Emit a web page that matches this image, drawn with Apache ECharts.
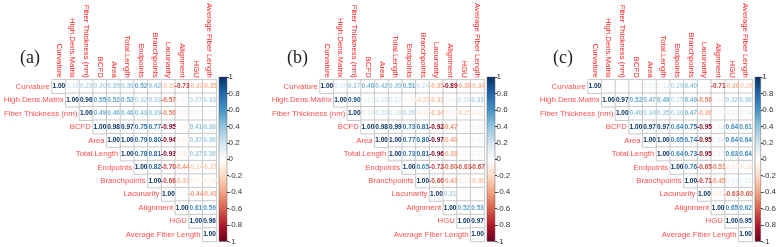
<!DOCTYPE html>
<html><head><meta charset="utf-8">
<script src="https://cdn.jsdelivr.net/npm/echarts@6/dist/echarts.min.js"></script>
<style>html,body{margin:0;padding:0;background:#fff}#c{width:779px;height:247px}</style>
</head><body><div id="c"></div>
<script>
const variables = ['Curvature','High.Dens.Matrix','Fiber Thickness (nm)','BCFD','Area','Total.Length','Endpoints','Branchpoints','Lacunarity','Alignment','HGU','Average Fiber Length'];
const panelLabels = ['(a)','(b)','(c)'];
const colorbarTicks = [1,0.8,0.6,0.4,0.2,0,-0.2,-0.4,-0.6,-0.8,-1];

// upper-triangular rows: row i lists correlations for columns i..11
const corrA = [
  [1.00, 0.18, 0.29, 0.30, 0.35, 0.36, 0.52, 0.42, -0.29, -0.73, -0.33, -0.35],
  [1.00, 0.96, 0.55, 0.52, 0.52, 0.32, 0.33, -0.57, 0.06, 0.27, 0.33],
  [1.00, 0.49, 0.46, 0.46, 0.43, 0.39, -0.50, -0.11, 0.07, 0.05],
  [1.00, 0.98, 0.97, 0.75, 0.77, -0.95, -0.06, 0.41, 0.38],
  [1.00, 1.00, 0.79, 0.80, -0.94, -0.09, 0.37, 0.36],
  [1.00, 0.78, 0.81, -0.93, -0.10, 0.37, 0.36],
  [1.00, 0.82, -0.70, -0.44, -0.24, -0.27],
  [1.00, -0.66, -0.33, -0.07, -0.09],
  [1.00, 0.02, -0.44, -0.41],
  [1.00, 0.61, 0.59],
  [1.00, 0.96],
  [1.00]
];
const corrB = [
  [1.00, 0.15, 0.37, 0.46, 0.42, 0.39, 0.51, 0.24, -0.35, -0.89, -0.38, -0.34],
  [1.00, 0.90, 0.11, 0.18, 0.17, -0.09, -0.25, -0.31, 0.07, 0.20, 0.33],
  [1.00, 0.14, 0.22, 0.19, 0.26, -0.13, -0.34, -0.10, -0.25, -0.13],
  [1.00, 0.98, 0.99, 0.73, 0.81, -0.92, -0.47, 0.04, 0.08],
  [1.00, 1.00, 0.77, 0.80, -0.97, -0.40, 0.03, 0.06],
  [1.00, 0.73, 0.81, -0.96, -0.38, 0.03, 0.07],
  [1.00, 0.65, -0.72, -0.60, -0.63, -0.67],
  [1.00, -0.66, -0.43, -0.11, -0.30],
  [1.00, 0.31, 0.03, 0.02],
  [1.00, 0.52, 0.53],
  [1.00, 0.97],
  [1.00]
];
const corrC = [
  [1.00, 0.01, 0.02, 0.05, 0.09, 0.12, 0.29, 0.40, 0.03, -0.71, -0.36, -0.26],
  [1.00, 0.97, 0.52, 0.47, 0.49, 0.25, 0.49, -0.50, 0.06, 0.32, 0.36],
  [1.00, 0.40, 0.34, 0.35, 0.30, 0.47, -0.38, -0.05, 0.11, 0.14],
  [1.00, 0.97, 0.97, 0.64, 0.75, -0.95, 0.12, 0.64, 0.61],
  [1.00, 1.00, 0.65, 0.74, -0.95, 0.13, 0.64, 0.64],
  [1.00, 0.64, 0.73, -0.95, 0.11, 0.63, 0.64],
  [1.00, 0.76, -0.65, -0.51, -0.13, -0.16],
  [1.00, -0.71, -0.45, 0.14, 0.11],
  [1.00, -0.13, -0.63, -0.60],
  [1.00, 0.65, 0.62],
  [1.00, 0.95],
  [1.00]
];
const panels = [corrA, corrB, corrC];

const palette = ['#67001F','#B2182B','#D6604D','#F4A582','#FDDBC7','#FFFFFF','#D1E5F0','#92C5DE','#4393C3','#2166AC','#053061'];
function hex2rgb(h){return [parseInt(h.slice(1,3),16),parseInt(h.slice(3,5),16),parseInt(h.slice(5,7),16)];}
function colorOf(v){
  const t = (v + 1) / 2 * (palette.length - 1);
  const i = Math.min(palette.length - 2, Math.max(0, Math.floor(t)));
  const f = t - i;
  const a = hex2rgb(palette[i]), b = hex2rgb(palette[i+1]);
  const c = a.map((x,k)=>Math.round(x + (b[k]-x)*f));
  return 'rgb(' + c.join(',') + ')';
}

const CELL = 13.7, N = variables.length, SIZE = CELL * N;
const lefts = [52, 320, 588], TOP = 77;
const titleLefts = [15, 282, 548];
const RED = '#ff2020';

const grid = [], xAxis = [], yAxis = [], series = [], title = [];
panels.forEach((M, p) => {
  const gm = p * 2, gc = p * 2 + 1;
  grid.push({left: lefts[p], top: TOP, width: SIZE, height: SIZE});
  grid.push({left: lefts[p] + 167, top: TOP, width: 8, height: SIZE});
  xAxis.push({gridIndex: gm, type: 'category', data: variables, position: 'top',
    axisLine: {show: false}, axisTick: {show: false}, splitLine: {show: false},
    axisLabel: {rotate: 90, margin: 2, fontSize: 7.8, color: RED, interval: 0, fontFamily: 'Liberation Sans'}});
  yAxis.push({gridIndex: gm, type: 'category', data: variables, inverse: true, show: false});
  xAxis.push({gridIndex: gc, type: 'category', data: ['cb'], show: false});
  yAxis.push({gridIndex: gc, type: 'value', min: -1, max: 1, interval: 0.2, position: 'right',
    splitLine: {show: false}, axisLine: {show: false},
    axisTick: {show: true, length: 2, lineStyle: {color: '#333', width: 1}},
    axisLabel: {fontSize: 8, margin: 1.5, color: '#333', fontFamily: 'Liberation Sans',
      formatter: v => String(parseFloat(v.toFixed(1)))}});
  const data = [];
  M.forEach((row, r) => row.forEach((v, k) => {
    const c = r + k;
    data.push({value: [c, r, v], label: {color: colorOf(v)}});
  }));
  series.push({type: 'heatmap', xAxisIndex: gm, yAxisIndex: gm, data,
    itemStyle: {color: '#ffffff', borderColor: '#c8c8c8', borderWidth: 1},
    label: {show: true, fontSize: 6.5, fontWeight: 'bold', fontFamily: 'Liberation Sans',
      formatter: q => q.value[2].toFixed(2)},
    emphasis: {disabled: true}, silent: true});
  series.push({type: 'scatter', xAxisIndex: gm, yAxisIndex: gm,
    data: variables.map((v, i) => [i, i]), symbolSize: 1,
    itemStyle: {color: 'rgba(0,0,0,0)'}, silent: true, z: 5,
    label: {show: true, position: 'left', distance: 8.5, color: RED, fontSize: 7.8,
      fontFamily: 'Liberation Sans', formatter: q => variables[q.dataIndex]}});
  series.push({type: 'custom', xAxisIndex: gc, yAxisIndex: gc, data: [[0, 0]], silent: true,
    renderItem: (params, api) => {
      const top = api.coord([0, colorbarTicks[0]]);
      const bot = api.coord([0, colorbarTicks[colorbarTicks.length - 1]]);
      const w = api.size([1, 0])[0];
      return {type: 'rect', shape: {x: top[0] - w / 2, y: top[1], width: w, height: bot[1] - top[1]},
        style: {fill: new echarts.graphic.LinearGradient(0, 0, 0, 1,
          palette.slice().reverse().map((c, i) => ({offset: i / (palette.length - 1), color: c}))),
          stroke: '#666', lineWidth: 0.5}};
    }});
  title.push({text: panelLabels[p], left: titleLefts[p], top: 44,
    textStyle: {fontFamily: 'Liberation Serif', fontSize: 18, fontWeight: 'normal', color: '#222'}});
});

const chart = echarts.init(document.getElementById('c'), null, {renderer: 'canvas'});
chart.setOption({animation: false, backgroundColor: '#fff', title, grid, xAxis, yAxis, series});
</script></body></html>
